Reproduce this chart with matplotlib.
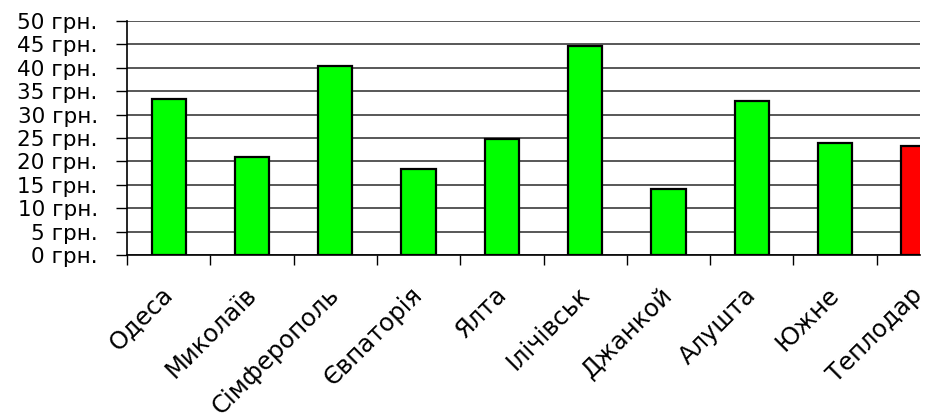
import matplotlib
matplotlib.use("Agg")
import matplotlib.pyplot as plt
import matplotlib.transforms as mtransforms
import numpy as np

cities = ["Одеса", "Миколаїв", "Сімферополь", "Євпаторія", "Ялта",
          "Іліч\u0456вськ", "Джанкой", "Алушта", "Южне", "Теплодар"]
prices = [33.3, 20.9, 40.4, 18.4, 24.7, 44.7, 14.1, 33.0, 23.9, 23.3]
colors = ["#00FF00"] * 9 + ["#FF0000"]
y_ticks = [0, 5, 10, 15, 20, 25, 30, 35, 40, 45, 50]
y_labels = [f"{v} грн." for v in y_ticks]

plt.rcParams['font.family'] = ['DejaVu Sans']

fig = plt.figure(figsize=(9.37, 4.16), dpi=100)
ax = fig.add_axes([127/937, 1-255/416, (920-127)/937, (255-21)/416])

x = np.arange(len(cities))
ax.bar(x, prices, width=0.41, color=colors, edgecolor="black", linewidth=1.6, zorder=3)

ax.set_yticks(y_ticks)
ax.set_yticklabels(y_labels, fontsize=15.5)
ax.tick_params(axis='y', length=8, width=1, pad=13, color='black')
ax.yaxis.grid(True, color='#2a2a2a', linewidth=1.1, zorder=0)

ax.set_xticks(np.arange(len(cities) + 1) - 0.5, minor=False)
ax.set_xticklabels([])
ax.tick_params(axis='x', which='major', length=7, width=1, color='black')
ax.set_xticks(x, minor=True)
ax.set_xticklabels(cities, minor=True, rotation=45, ha='right',
                   rotation_mode='anchor', fontsize=17.5)
ax.tick_params(axis='x', which='minor', length=0, pad=22)

offset = mtransforms.ScaledTranslation(-8/100, 3/100, fig.dpi_scale_trans)
for lbl in ax.get_xticklabels(minor=True):
    lbl.set_transform(lbl.get_transform() + offset)

ax.set_ylim(0, 50)
ax.set_xlim(-0.5, (920-127)/83.3 - 0.5)

for s in ['top', 'right']:
    ax.spines[s].set_visible(False)
ax.spines['left'].set_linewidth(1.2)
ax.spines['bottom'].set_linewidth(1.2)
ax.set_axisbelow(True)

fig.savefig("out.png", dpi=100)
